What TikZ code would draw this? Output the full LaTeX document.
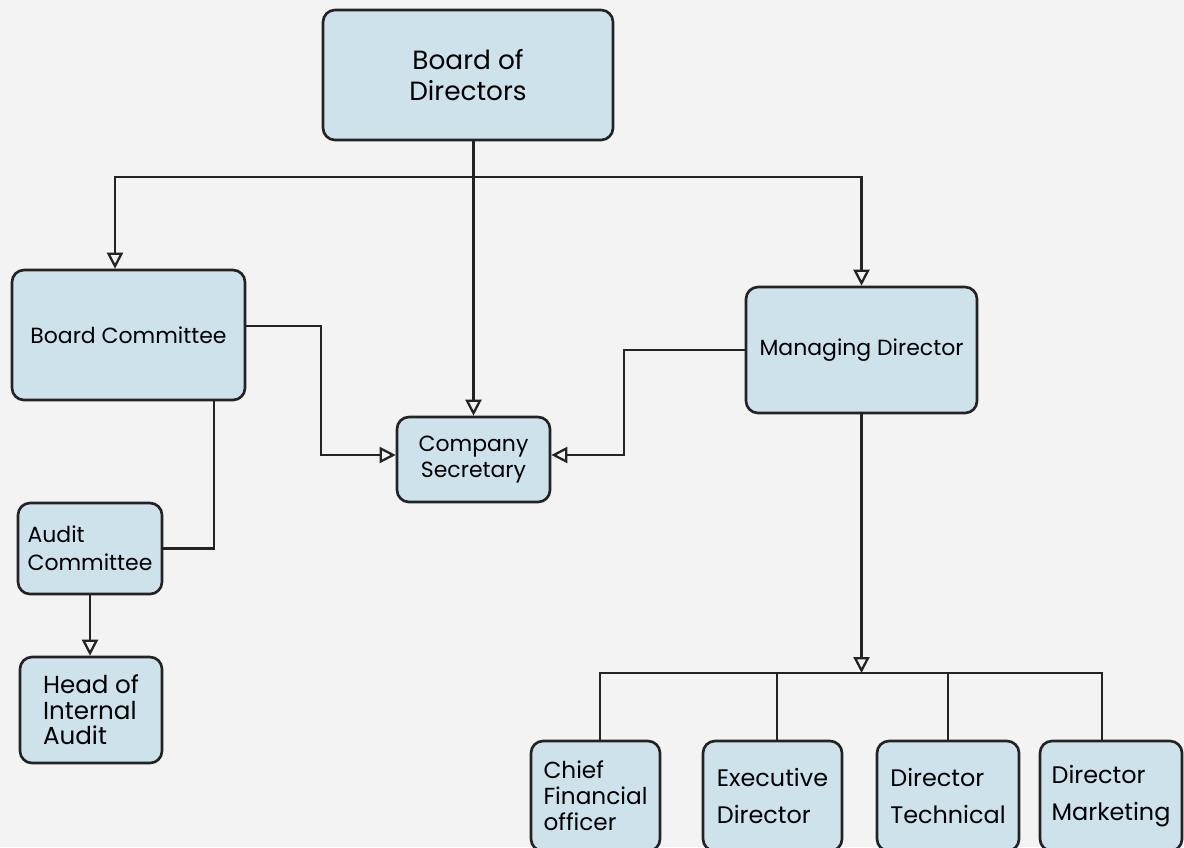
\documentclass[tikz,border=0pt]{standalone}
\usepackage{fontspec}
\setmainfont{Poppins}
\usepackage{tikz}
\usetikzlibrary{arrows.meta,calc,positioning}
\definecolor{boxblue}{RGB}{206,226,236}
\definecolor{edge}{RGB}{35,35,35}
\definecolor{wall}{RGB}{243,243,243}

\begin{document}
\begin{tikzpicture}[
    box/.style={draw=edge,fill=boxblue,line width=1.5pt,rounded corners=0.24cm,
      inner sep=0pt,font=\fontsize{12.5pt}{15pt}\selectfont},
    link/.style={draw=edge,line width=1.3pt},
    arr/.style={link,-{Triangle[open,length=0.32cm,width=0.32cm]}}
  ]
        \def\w{23.68}
        \def\h{16.94}
        %Background
        \fill[wall] (0,0) rectangle (\w,-\h);
        \useasboundingbox (0,0) rectangle (\w,-\h);
        %Boxes
        \node[box,minimum width=5.8cm,minimum height=2.6cm,align=center,
          font=\fontsize{15pt}{18pt}\selectfont] (bod) at (9.36,-1.5) {Board of\\Directors};
        \node[box,minimum width=4.66cm,minimum height=2.6cm] (bc) at (2.57,-6.7) {Board Committee};
        \node[box,minimum width=4.62cm,minimum height=2.52cm] (md) at (17.23,-7) {Managing Director};
        \node[box,minimum width=3.06cm,minimum height=1.7cm,align=center] (cs) at (9.47,-9.19) {Company\\Secretary};
        \node[box,minimum width=2.88cm,minimum height=1.82cm,align=left] (ac) at (1.8,-10.97) {Audit\\[1pt]Committee};
        \node[box,minimum width=2.84cm,minimum height=2.12cm,align=left,
          font=\fontsize{14pt}{14.6pt}\selectfont] (hia) at (1.82,-14.2) {Head of\\Internal\\Audit};
        \node[box,minimum width=2.58cm,minimum height=2.2cm,align=left,
          font=\fontsize{13.2pt}{14.8pt}\selectfont] (cfo) at (11.91,-15.92) {Chief\\Financial\\officer};
        \node[box,minimum width=2.78cm,minimum height=2.2cm,align=left,
          font=\fontsize{13.6pt}{16pt}\selectfont] (ed) at (15.45,-15.92) {Executive\\[5pt]Director};
        \node[box,minimum width=2.84cm,minimum height=2.2cm,align=left,
          font=\fontsize{13.6pt}{16pt}\selectfont] (dt) at (18.96,-15.92) {Director\\[5pt]Technical};
        \node[box,minimum width=2.84cm,minimum height=2.2cm,align=left,
          font=\fontsize{13.6pt}{16pt}\selectfont] (dm) at (22.22,-15.92) {Director\\[5pt]Marketing};
        %Split points
        \coordinate (top) at ($(cs.north |- 0,-3.54)$);
        \coordinate (bus) at ($(md.south |- 0,-13.46)$);
        %Lines from the board
        \draw[arr] (bod.south -| top) -- (cs.north -| top);
        \draw[arr] (top) -| ([xshift=-0.27cm]bc.north);
        \draw[arr] (top) -| (md.north);
        %Lines to the secretary
        \draw[arr] ([yshift=0.18cm]bc.east) -- ++(1.5,0) |- ([yshift=0.09cm]cs.west);
        \draw[arr] (md.west) -- ++(-2.42,0) |- ([yshift=0.09cm]cs.east);
        %Audit side
        \draw[link] ([xshift=1.71cm]bc.south) |- (ac.east);
        \draw[arr] (ac.south) -- (ac.south |- hia.north);
        %Directors
        \draw[arr] (md.south) -- (bus);
        \draw[link] (bus) -| ([xshift=0.09cm]cfo.north);
        \draw[link] (bus) -| ([xshift=0.09cm]ed.north);
        \draw[link] (bus) -| (dt.north);
        \draw[link] (bus) -| ([xshift=-0.18cm]dm.north);
      \end{tikzpicture}
\end{document}
